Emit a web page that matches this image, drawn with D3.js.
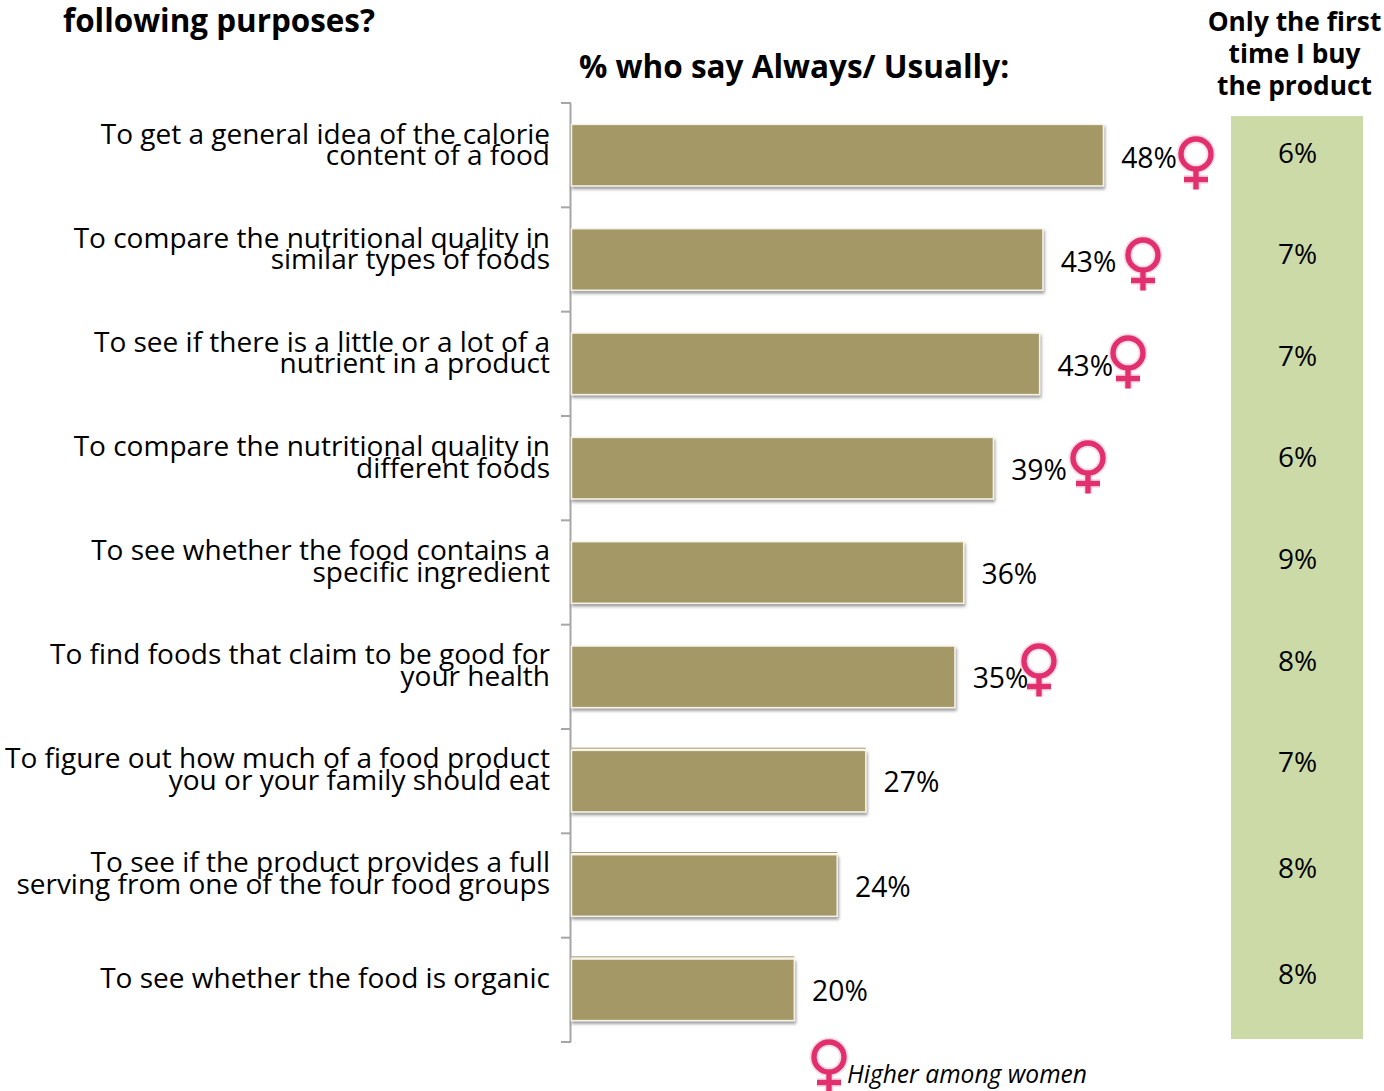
<!DOCTYPE html>
<html><head><meta charset="utf-8">
<script src="https://cdn.jsdelivr.net/npm/d3@7"></script>
<style>html,body{margin:0;padding:0;background:#fff}svg{display:block}text{font-family:"Open Sans",sans-serif;fill:#000}</style>
</head><body><svg id="c" width="1384" height="1091"></svg>
<script>
const categories=[
 ["To get a general idea of the calorie","content of a food"],
 ["To compare the nutritional quality in","similar types of foods"],
 ["To see if there is a little or a lot of a","nutrient in a product"],
 ["To compare the nutritional quality in","different foods"],
 ["To see whether the food contains a","specific ingredient"],
 ["To find foods that claim to be good for","your health"],
 ["To figure out how much of a food product","you or your family should eat"],
 ["To see if the product provides a full","serving from one of the four food groups"],
 ["To see whether the food is organic"]];
const values=[48.4,42.9,42.6,38.4,35.7,34.9,26.8,24.2,20.3];
const valueLabels=["48%","43%","43%","39%","36%","35%","27%","24%","20%"];
const firstTime=["6%","7%","7%","6%","9%","8%","7%","8%","8%"];
const higherAmongWomen=[true,true,true,true,false,true,false,false,false];

const svg=d3.select("#c");
const layout={x0:571,top:103,bottom:1042,perPct:11};
const x=d3.scaleLinear().domain([0,1]).range([layout.x0,layout.x0+layout.perPct]);
const y=d3.scaleBand().domain(d3.range(categories.length)).range([layout.top,layout.bottom]).paddingInner(0.41).paddingOuter(0.205);
const yTick=d3.scaleLinear().domain([0,categories.length]).range([layout.top,layout.bottom]);
const mid=i=>y(i)+y.bandwidth()/2;

const defs=svg.append("defs");
const f=defs.append("filter").attr("id","sh").attr("x","-5%").attr("y","-10%").attr("width","110%").attr("height","125%");
f.append("feDropShadow").attr("dx",1).attr("dy",2.5).attr("stdDeviation",1.6).attr("flood-color","#555").attr("flood-opacity",0.6);

// green column
svg.append("rect").attr("x",1231).attr("y",116).attr("width",132).attr("height",923).attr("fill","#ccdaa8");
const greenDy=[-2,-6,-8,-11,-14,-16,-19,-18,-16];
svg.selectAll("text.g").data(firstTime).join("text").attr("class","g")
 .attr("x",1297.5).attr("y",(d,i)=>mid(i)+greenDy[i]+10).attr("text-anchor","middle")
 .attr("font-size",28).text(d=>d);

// axis
const axis=svg.append("g").attr("stroke","#a6a6a6").attr("stroke-width",2).attr("fill","none");
axis.append("line").attr("x1",570.5).attr("x2",570.5).attr("y1",layout.top).attr("y2",layout.bottom);
axis.selectAll("line.t").data(d3.range(categories.length+1)).join("line").attr("class","t")
 .attr("x1",561).attr("x2",571).attr("y1",d=>yTick(d)).attr("y2",d=>yTick(d));

// bars
svg.selectAll("rect.b").data(values).join("rect").attr("class","b")
 .attr("x",x(0)+0.5).attr("y",(d,i)=>y(i)).attr("width",d=>x(d)-x(0)-0.5).attr("height",y.bandwidth())
 .attr("fill","#a49866").attr("stroke","#f4f1e6").attr("stroke-width",1.5).attr("filter","url(#sh)");
// thin tan edge above the lower bars
svg.selectAll("line.e").data(values).join("line").attr("class","e")
 .filter((d,i)=>i>=6)
 .attr("x1",x(0)+0.5).attr("x2",d=>x(d)).attr("y1",function(d){return y(values.indexOf(d))-2.2;}).attr("y2",function(d){return y(values.indexOf(d))-2.2;})
 .attr("stroke","#a49866").attr("stroke-width",1);

// category labels
const lab=svg.append("g").attr("text-anchor","end").attr("font-size",28);
categories.forEach((lines,i)=>{
  lines.forEach((t,j)=>{
    const dy=lines.length===1?-1.5:(j===0?-11-i*0.3:10-i*0.18);
    lab.append("text").attr("x",550).attr("y",mid(i)+dy).text(t);
  });
});

// value labels
svg.selectAll("text.v").data(valueLabels).join("text").attr("class","v")
 .attr("x",(d,i)=>x(values[i])+17.8).attr("y",(d,i)=>mid(i)+12.5-i*0.2).attr("font-size",28.3).text(d=>d);

// female symbol
function venus(cx,cy){
  const g=svg.append("g").attr("transform",`translate(${cx},${cy})`);
  const halo=(s,w)=>s.attr("stroke","#f8dde6").attr("stroke-width",w).attr("fill","none");
  const shapes=g2=>{
    g2.append("circle").attr("r",15);
    g2.append("line").attr("x1",0).attr("x2",0).attr("y1",15).attr("y2",35.5);
    g2.append("line").attr("x1",-12).attr("x2",12).attr("y1",25.5).attr("y2",25.5);
  };
  const a=g.append("g");halo(a,9);shapes(a);
  const b=g.append("g").attr("stroke","#e2306f").attr("stroke-width",5.4).attr("fill","none");shapes(b);
}
const iconPos={0:[1196,154],1:[1143,255],2:[1128,353],3:[1088,458],5:[1039,661]};
higherAmongWomen.forEach((h,i)=>{if(h)venus(...iconPos[i]);});
venus(829,1057);
svg.append("text").attr("x",847).attr("y",1082.5).attr("font-size",24.6).attr("font-style","italic").text("Higher among women");

// titles
svg.append("text").attr("x",63).attr("y",32).attr("font-size",31.4).attr("font-weight",700).text("following purposes?");
svg.append("text").attr("x",579).attr("y",78).attr("font-size",31.5).attr("font-weight",700).text("% who say Always/ Usually:");
const hd=svg.append("g").attr("text-anchor","middle").attr("font-size",26.3).attr("font-weight",700);
["Only the first","time I buy","the product"].forEach((t,i)=>hd.append("text").attr("x",1294.5).attr("y",31+i*32).text(t));
</script></body></html>
